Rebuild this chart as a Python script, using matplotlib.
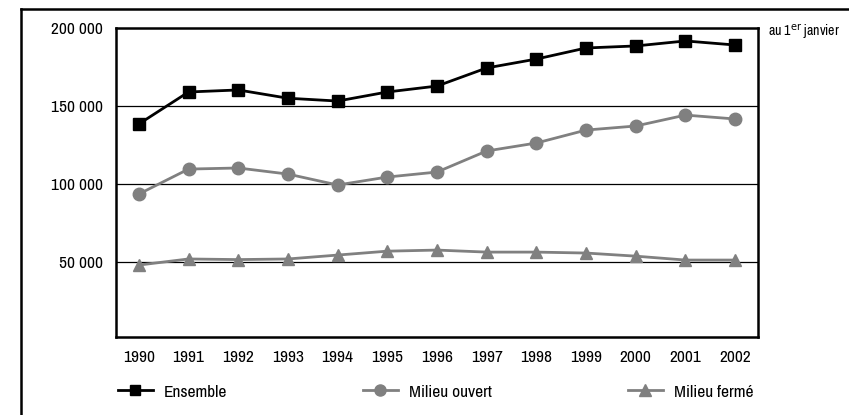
#!/usr/bin/env python3

import matplotlib as mpl
import matplotlib.pyplot as plt
from matplotlib.lines import Line2D

years = ["1990", "1991", "1992", "1993", "1994", "1995", "1996",
	"1997", "1998", "1999", "2000", "2001", "2002"]
ensemble = [138500, 159000, 160300, 155000, 153200, 159000, 162800,
	174400, 180100, 187200, 188500, 191700, 189100]
milieuOuvert = [93600, 109600, 110300, 106400, 99400, 104500, 107700,
	121200, 126300, 134600, 137200, 144200, 141700]
milieuFerme = [48100, 52000, 51600, 52000, 54500, 57000, 57700,
	56400, 56400, 55800, 53800, 51300, 51300]
yTicks = [50000, 100000, 150000, 200000]
yTickLabels = ["50 000", "100 000", "150 000", "200 000"]


def setupPlots():
	mpl.rcParams["font.family"] = ["Archivo Narrow", "Liberation Sans", "DejaVu Sans"]
	mpl.rcParams["font.size"] = 12.5
	mpl.rcParams["figure.dpi"] = 100
	mpl.rcParams["savefig.dpi"] = 100


setupPlots()
W, H = 849, 415
fig = plt.figure(figsize=(W / 100, H / 100))
ax = fig.add_axes([116 / W, 1 - 337 / H, (758 - 116) / W, (337 - 28) / H])

xs = list(range(len(years)))
grey = "#808080"
ax.plot(xs, ensemble, color="black", lw=2, marker="s", ms=8.6, zorder=5)
ax.plot(xs, milieuOuvert, color=grey, lw=2, marker="o", ms=9, zorder=4)
ax.plot(xs, milieuFerme, color=grey, lw=2, marker="^", ms=9, zorder=4)

ax.set_xlim(-0.46, len(years) - 0.54)
ax.set_ylim(2000, 200000)
ax.set_xticks(xs)
ax.set_xticklabels(years)
ax.set_yticks(yTicks)
ax.set_yticklabels(yTickLabels)
ax.tick_params(length=0, labelsize=12.5, pad=9)
ax.tick_params(axis="y", pad=9.5)
for y in yTicks[:-1]:
	ax.axhline(y, color="black", lw=0.9, zorder=1)
for s in ax.spines.values():
	s.set_linewidth(1.8)

fig.text(768 / W, 1 - 32 / H, "au 1$^{\\rm er}$ janvier", fontsize=10, va="center", ha="left")

# outer frame (top and left only)
fig.add_artist(Line2D([21 / W, 1], [1 - 9 / H, 1 - 9 / H], color="black", lw=1.8, transform=fig.transFigure))
fig.add_artist(Line2D([21 / W, 21 / W], [0, 1 - 9 / H], color="black", lw=1.8, transform=fig.transFigure))

# legend entries placed one by one
entries = [
	(Line2D([], [], color="black", lw=2, marker="s", ms=7.5), "Ensemble", 118),
	(Line2D([], [], color=grey, lw=2, marker="o", ms=8), "Milieu ouvert", 363),
	(Line2D([], [], color=grey, lw=2, marker="^", ms=8), "Milieu fermé", 628),
]
for handle, label, xpix in entries:
	fig.legend([handle], [label], loc="center left", bbox_to_anchor=(xpix / W, 1 - 392 / H),
		frameon=False, fontsize=12.5, handlelength=2.0, handletextpad=0.65, borderpad=0, borderaxespad=0)

fig.savefig("out.png")
